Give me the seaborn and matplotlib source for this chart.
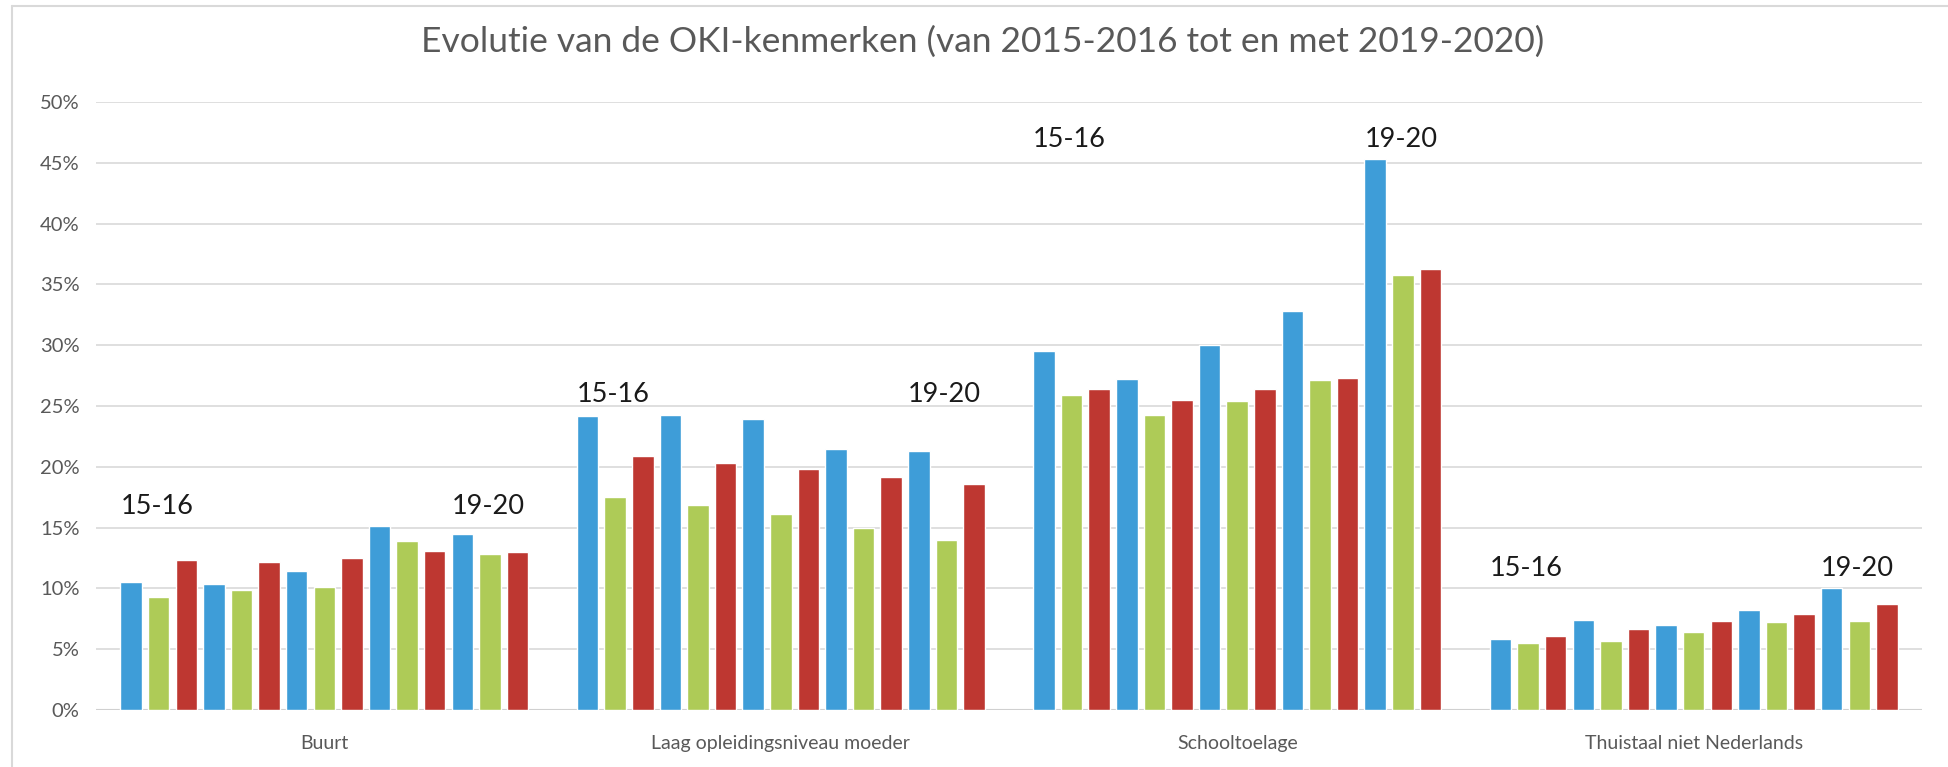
import matplotlib
matplotlib.use("Agg")
import matplotlib.pyplot as plt
from matplotlib.lines import Line2D
import pandas as pd
import seaborn as sns

# DATA

kenmerken = [
    "Buurt",
    "Laag opleidingsniveau moeder",
    "Schooltoelage",
    "Thuistaal niet Nederlands",
]
schooljaren = ["15-16", "16-17", "17-18", "18-19", "19-20"]
reeksen = ["reeks 1", "reeks 2", "reeks 3"]

# per kenmerk: per schooljaar drie waarden (blauw, groen, rood), in %
buurt = [10.5, 9.3, 12.3, 10.4, 9.9, 12.2, 11.4, 10.1, 12.5,
         15.1, 13.9, 13.1, 14.5, 12.8, 13.0]
laag_opleiding = [24.2, 17.5, 20.9, 24.3, 16.9, 20.3, 23.9, 16.1, 19.8,
                  21.5, 15.0, 19.2, 21.3, 14.0, 18.6]
schooltoelage = [29.5, 25.9, 26.4, 27.2, 24.3, 25.5, 30.0, 25.4, 26.4,
                 32.8, 27.1, 27.3, 45.3, 35.8, 36.3]
thuistaal = [5.8, 5.5, 6.1, 7.4, 5.7, 6.7, 7.0, 6.4, 7.3,
             8.2, 7.2, 7.9, 10.0, 7.3, 8.7]

kleuren = ["#3E9DD8", "#AECB57", "#BE3731"]

# DATAFRAME

waarden = [buurt, laag_opleiding, schooltoelage, thuistaal]
rows = []
for kenmerk, reeks_waarden in zip(kenmerken, waarden):
    i = 0
    for jaar in schooljaren:
        for reeks in reeksen:
            rows.append({
                "kenmerk": kenmerk,
                "slot": f"{jaar} {reeks}",
                "waarde": reeks_waarden[i],
            })
            i += 1
df = pd.DataFrame(rows)
slots = list(dict.fromkeys(df["slot"]))

# FIGUUR

sns.set_style("white")
plt.rcParams["font.family"] = ["Lato", "DejaVu Sans"]

fig = plt.figure(figsize=(19.49, 7.67), dpi=100)
ax = fig.add_axes([0.0493, 0.0743, 0.9368, 0.7927])

sns.barplot(
    data=df,
    x="kenmerk",
    y="waarde",
    hue="slot",
    hue_order=slots,
    order=kenmerken,
    palette=kleuren * len(schooljaren),
    saturation=1,
    width=0.907,
    gap=0.22,
    legend=False,
    errorbar=None,
    ax=ax,
    zorder=3,
)

ax.set_xlim(-0.5, len(kenmerken) - 0.5)
ax.set_ylim(0, 50)
ax.set_yticks(range(0, 51, 5))
ax.set_yticklabels([f"{v}%" for v in range(0, 51, 5)])
ax.grid(axis="y", color="#D9D9D9", linewidth=1.2, zorder=0)
ax.set_axisbelow(True)
sns.despine(ax=ax, left=True, bottom=True, top=True, right=True)
ax.axhline(0, color="#D0D0D0", linewidth=1.5, zorder=2)

ax.set_xlabel("")
ax.set_ylabel("")
ax.tick_params(axis="x", length=0, pad=18, labelsize=14, labelcolor="#595959")
ax.tick_params(axis="y", length=0, pad=12, labelsize=14.5, labelcolor="#595959")

# JAARLABELS boven eerste en laatste schooljaar
bars = ax.patches
for g, reeks_waarden in enumerate(waarden):
    top = max(reeks_waarden)
    for jaar_idx in [0, len(schooljaren) - 1]:
        slot_idx = jaar_idx * len(reeksen)
        bar = bars[slot_idx * len(kenmerken) + g]
        ax.text(
            bar.get_x(),
            top + 1.0,
            schooljaren[jaar_idx],
            ha="left",
            va="baseline",
            fontsize=19.5,
            color="#1a1a1a",
        )

fig.suptitle(
    "Evolutie van de OKI-kenmerken (van 2015-2016 tot en met 2019-2020)",
    x=0.504,
    y=0.967,
    fontsize=25.5,
    color="#595959",
)

# rand van de grafiek
fig.add_artist(Line2D([0.006, 0.006], [0.0, 0.992], color="#D9D9D9", linewidth=1.5))
fig.add_artist(Line2D([0.006, 1.0], [0.992, 0.992], color="#D9D9D9", linewidth=1.5))

fig.savefig("out.png", dpi=100, facecolor="white")
plt.close(fig)
